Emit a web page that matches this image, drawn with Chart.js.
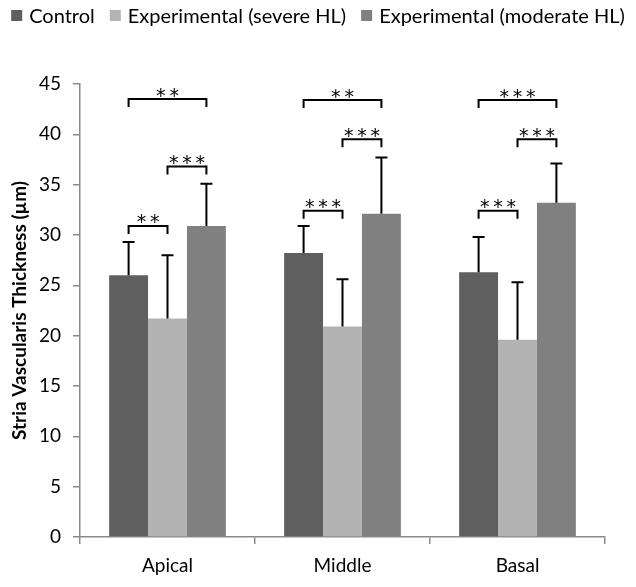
<!DOCTYPE html>
<html><head><meta charset="utf-8">
<script src="https://cdn.jsdelivr.net/npm/chart.js@4/dist/chart.umd.min.js"></script>
<style>html,body{margin:0;padding:0;background:#fff}#wrap{width:636px;height:587px;position:relative}</style>
</head><body><div id="wrap"><canvas id="c" width="636" height="587"></canvas></div>
<script>
const categories = ['Apical', 'Middle', 'Basal'];
const seriesNames = ['Control', 'Experimental (severe HL)', 'Experimental (moderate HL)'];
const controlMeans = [26.0, 28.2, 26.3];
const severeMeans = [21.7, 20.9, 19.6];
const moderateMeans = [30.9, 32.1, 33.2];
const controlSD = [3.3, 2.7, 3.5];
const severeSD = [6.3, 4.7, 5.7];
const moderateSD = [4.2, 5.6, 3.9];
const seriesColors = ['#5f5f5f', '#b3b3b3', '#808080'];
const yTicks = [0, 5, 10, 15, 20, 25, 30, 35, 40, 45];

// significance brackets: category index, from series, to series, bracket level (µm), label
const bracketCategory = [0, 0, 0, 1, 1, 1, 2, 2, 2];
const bracketFrom = [0, 1, 0, 0, 1, 0, 0, 1, 0];
const bracketTo = [1, 2, 2, 1, 2, 2, 1, 2, 2];
const bracketLevel = [30.9, 36.8, 43.5, 32.4, 39.5, 43.4, 32.4, 39.5, 43.4];
const bracketLabel = ['**', '***', '**', '***', '***', '**', '***', '***', '***'];

const FONT = 'Lato';
const AXIS = '#8a8a8a';

const annot = {
  id: 'annot',
  afterDatasetsDraw(chart) {
    const ctx = chart.ctx, ys = chart.scales.y;
    ctx.save();
    ctx.strokeStyle = '#000';
    ctx.lineWidth = 2;
    chart.data.datasets.forEach((ds, di) => {
      const meta = chart.getDatasetMeta(di);
      meta.data.forEach((bar, i) => {
        const top = ys.getPixelForValue(ds.data[i] + ds.sd[i]);
        ctx.beginPath();
        ctx.moveTo(bar.x, bar.y);
        ctx.lineTo(bar.x, top);
        ctx.moveTo(bar.x - 6, top);
        ctx.lineTo(bar.x + 6, top);
        ctx.stroke();
      });
    });
    ctx.fillStyle = '#000';
    ctx.font = '19px "DejaVu Sans"';
    ctx.textAlign = 'center';
    ctx.textBaseline = 'alphabetic';
    for (let k = 0; k < bracketLevel.length; k++) {
      const c = bracketCategory[k];
      const x1 = chart.getDatasetMeta(bracketFrom[k]).data[c].x;
      const x2 = chart.getDatasetMeta(bracketTo[k]).data[c].x;
      const yy = ys.getPixelForValue(bracketLevel[k]);
      ctx.beginPath();
      ctx.moveTo(x1, yy + 8);
      ctx.lineTo(x1, yy);
      ctx.lineTo(x2, yy);
      ctx.lineTo(x2, yy + 8);
      ctx.stroke();
      const txt = bracketLabel[k].split('').join('\u2009');
      const m = ctx.measureText(txt);
      const mid = (m.actualBoundingBoxAscent - m.actualBoundingBoxDescent) / 2;
      ctx.fillText(txt, (x1 + x2) / 2, yy - 7 + mid);
    }
    ctx.restore();
  },
  afterDraw(chart) {
    const ctx = chart.ctx;
    ctx.save();
    ctx.font = '20px ' + FONT;
    ctx.textBaseline = 'middle';
    ctx.textAlign = 'left';
    const box = 11, gapIn = 7, gapOut = 15;
    const widths = seriesNames.map(s => ctx.measureText(s).width);
    let total = widths.reduce((a, b) => a + b, 0) + seriesNames.length * (box + gapIn) + (seriesNames.length - 1) * gapOut;
    let x = (chart.width - total) / 2;
    seriesNames.forEach((s, i) => {
      ctx.fillStyle = seriesColors[i];
      ctx.fillRect(x, 10, box, box);
      ctx.fillStyle = '#000';
      ctx.fillText(s, x + box + gapIn, 17);
      x += box + gapIn + widths[i] + gapOut;
    });
    ctx.restore();
  }
};

const datasets = [controlMeans, severeMeans, moderateMeans].map((d, i) => ({
  label: seriesNames[i],
  data: d,
  sd: [controlSD, severeSD, moderateSD][i],
  backgroundColor: seriesColors[i],
  borderWidth: 0,
  categoryPercentage: 0.667,
  barPercentage: 1.0
}));

new Chart(document.getElementById('c'), {
  type: 'bar',
  data: { labels: categories, datasets },
  options: {
    responsive: false,
    animation: false,
    layout: { padding: { top: 84, right: 31, left: 0, bottom: 0 } },
    plugins: { legend: { display: false }, tooltip: { enabled: false } },
    scales: {
      x: {
        grid: { display: true, drawOnChartArea: false, drawTicks: true, tickLength: 7, color: AXIS, lineWidth: 1.5, offset: true },
        border: { color: AXIS, width: 1.5 },
        ticks: { font: { family: FONT, size: 19 }, color: '#000', padding: 10 },
        afterFit(s) { s.height = 50; }
      },
      y: {
        min: 0, max: 45,
        afterBuildTicks(s) { s.ticks = yTicks.map(v => ({ value: v })); },
        grid: { display: true, drawOnChartArea: false, drawTicks: true, tickLength: 7, color: AXIS, lineWidth: 1.5 },
        border: { color: AXIS, width: 1.5 },
        ticks: { font: { family: FONT, size: 19 }, color: '#000', padding: 12 },
        title: { display: true, text: 'Stria Vascularis Thickness (µm)', font: { family: FONT, size: 19, weight: 'bold' }, color: '#000', padding: { top: 8, bottom: 0 } },
        afterFit(s) { s.width = 80; }
      }
    }
  },
  plugins: [annot]
});
</script></body></html>
